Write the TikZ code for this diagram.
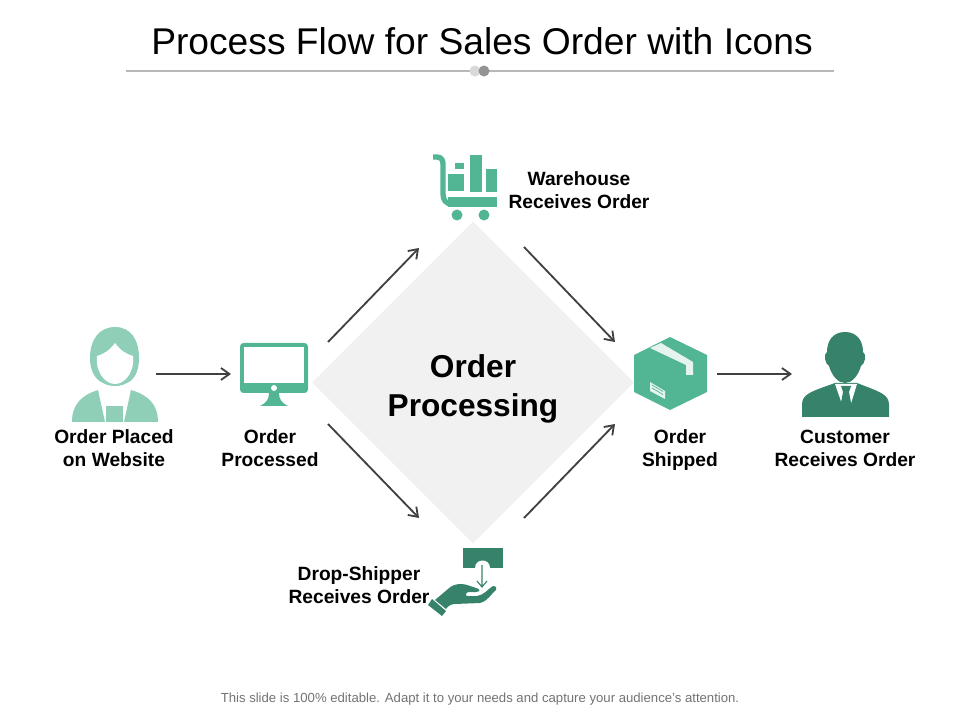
\documentclass[tikz,border=0pt]{standalone}
\usepackage{fontspec}
\setmainfont{Liberation Sans}
\usepackage{xcolor}
\usetikzlibrary{shapes}
\usetikzlibrary{positioning, arrows.meta}
\definecolor{mintLight}{HTML}{8FCFB8}
\definecolor{mintMid}{HTML}{52B594}
\definecolor{mintDark}{HTML}{37826A}
\definecolor{arrowGrey}{HTML}{404040}
\definecolor{paneGrey}{HTML}{F1F1F1}
\begin{document}
\begin{tikzpicture}
          [x=0.025cm, y=-0.025cm,
           flow/.style={draw=arrowGrey, line width=1.3pt, -{Straight Barb[length=6pt,width=8.5pt]}},
           caption/.style={align=center, inner sep=0pt, text height=26pt, text depth=3pt, font=\fontsize{13.65}{16.3}\selectfont\bfseries}]
            \useasboundingbox (0,0) rectangle (960,720);
            \node (Title) at (482,41) [inner sep=0pt, font=\fontsize{26.45}{30}\selectfont]{Process Flow for Sales Order with Icons};
            \draw [color=black!28, line width=1.2pt] (126,71) -- (834,71);
            \fill [black!15] (475,71) circle (5.5);
            \fill [black!42] (484,71) circle (5.5);
            \node (Hub) at (473,382.5) [diamond, fill=paneGrey, inner sep=0pt, minimum width=322*0.025cm, minimum height=322*0.025cm]{};
            \node (HubText) at (473,389) [align=center, inner sep=0pt, font=\fontsize{22.5}{27.6}\selectfont\bfseries]{Order\\Processing};
            \node (Website) at (114,450) [caption]{Order Placed\\on Website};
            \node (Processed) at (270,450) [caption]{Order\\Processed};
            \node (Shipped) at (680,450) [caption]{Order\\Shipped};
            \node (Customer) at (845,450) [caption]{Customer\\Receives Order};
            \node (Warehouse) at (579,192) [caption]{Warehouse\\Receives Order};
            \node (Dropship) at (359,587) [caption]{Drop-Shipper\\Receives Order};
            \coordinate (WomanOut) at (156,374);
            \coordinate (ScreenIn) at (231,374);
            \coordinate (ScreenUp) at (328,342);
            \coordinate (CartIn) at (419,248);
            \coordinate (CartOut) at (524,247);
            \coordinate (BoxUp) at (615,342);
            \coordinate (ScreenDown) at (328,424);
            \coordinate (HandIn) at (419,518);
            \coordinate (HandOut) at (524,518);
            \coordinate (BoxDown) at (615,424);
            \coordinate (BoxOut) at (717,374);
            \coordinate (ManIn) at (792,374);
            \draw [flow] (WomanOut) -- (ScreenIn);
            \draw [flow] (ScreenUp) -- (CartIn);
            \draw [flow] (CartOut) -- (BoxUp);
            \draw [flow] (ScreenDown) -- (HandIn);
            \draw [flow] (HandOut) -- (BoxDown);
            \draw [flow] (BoxOut) -- (ManIn);
            % woman
            \fill [mintLight] (115,327) .. controls (99,327) and (90,340) .. (90,358) .. controls (90,372) and (96,380) .. (103,383)
              .. controls (110,387) and (120,387) .. (127,383) .. controls (134,380) and (139,372) .. (139,358) .. controls (139,340) and (131,327) .. (115,327) -- cycle;
            \fill [white] (115,343) .. controls (110,350) and (104,354) .. (97,356) .. controls (95,370) and (104,384) .. (115,384)
              .. controls (126,384) and (135,370) .. (133,356) .. controls (126,354) and (120,350) .. (115,343) -- cycle;
            \fill [mintLight] (72,422) .. controls (72,404) and (82,395) .. (98,390) -- (105,422) -- cycle;
            \fill [mintLight] (158,422) .. controls (158,404) and (148,395) .. (131,390) -- (124,422) -- cycle;
            \fill [mintLight] (106,406) rectangle (123,422);
            % monitor
            \fill [mintMid, rounded corners=2.5] (240,343) rectangle (308,393);
            \fill [white] (244,347) rectangle (304,383);
            \fill [white] (274,388) circle (3);
            \fill [mintMid] (269,393) -- (279,393) .. controls (279,400) and (282,403) .. (288,406) -- (260,406) .. controls (266,403) and (269,400) .. (269,393) -- cycle;
            % cart
            \draw [mintMid, line width=3.8pt] (433,157) -- (437,157) .. controls (441,157) and (443,160) .. (443,164) -- (443,194) .. controls (443,200) and (446,204) .. (452,204);
            \fill [mintMid] (448,197) rectangle (497,207);
            \fill [mintMid] (448,174) rectangle (464,191);
            \fill [mintMid] (455,163) rectangle (464,169);
            \fill [mintMid] (470,155) rectangle (482,192);
            \fill [mintMid] (486,169) rectangle (497,192);
            \fill [mintMid] (457,215) circle (5.5);
            \fill [mintMid] (484,215) circle (5.5);
            % box
            \fill [mintMid] (670,337) -- (707,355) -- (707,392) -- (670,410) -- (634,392) -- (634,355) -- cycle;
            \fill [white!85!mintMid] (650,348) -- (661,343) -- (693,362) -- (693,375) -- (686,375) -- (686,365) -- cycle;
            \fill [white!85!mintMid] (650,382) -- (665,391) -- (665,399) -- (650,391) -- cycle;
            \draw [mintMid, line width=0.5pt] (652,385) -- (663,391.5) (652,388) -- (663,394.5);
            % man
            \fill [mintDark] (802,417) -- (802,405) .. controls (802,394) and (810,392) .. (835,383) -- (857,383) .. controls (880,392) and (889,394) .. (889,405) -- (889,417) -- cycle;
            \fill [white] (835,384) -- (857,384) -- (849,410) -- (844,410) -- cycle;
            \fill [mintDark] (841,386) -- (851,386) -- (849,392) -- (852,408) -- (846,416) -- (840,408) -- (843,392) -- cycle;
            \fill [mintDark] (845,332) .. controls (832,332) and (827,342) .. (827,352) .. controls (823,354) and (825,364) .. (829,366)
              .. controls (832,376) and (838,383) .. (845,383) .. controls (852,383) and (858,376) .. (861,366)
              .. controls (865,364) and (867,354) .. (863,352) .. controls (863,342) and (858,332) .. (845,332) -- cycle;
            % hand
            \fill [mintDark] (463,548) rectangle (503,568);
            \fill [white] (475,568) .. controls (475,558) and (490,558) .. (490,568) -- (490,580) -- (475,580) -- cycle;
            \draw [mintDark, line width=0.8pt] (482,565) -- (482,587) (477,581) -- (482,587) -- (487,581);
            \fill [mintDark] (435,600) -- (448,589) .. controls (454,583) and (463,583) .. (470,586) -- (476,588) .. controls (481,589) and (480,592) .. (476,592)
              -- (468,592) .. controls (465,594) and (465,596) .. (468,596) -- (477,596) .. controls (484,595) and (488,589) .. (493,586) .. controls (496,586) and (497,588) .. (496,590)
              .. controls (491,594) and (488,601) .. (480,603) -- (455,604) .. controls (451,604) and (448,606) .. (446,609) -- cycle;
            \fill [mintDark] (428,605) -- (432,599) -- (446,611) -- (442,616) -- cycle;
            \node (Note) at (480,699.5) [inner sep=0pt, text=black!55, font=\fontsize{9.35}{11}\selectfont]{This slide is 100\% editable. Adapt it to your needs and capture your audience's attention.};
        \end{tikzpicture}
\end{document}
